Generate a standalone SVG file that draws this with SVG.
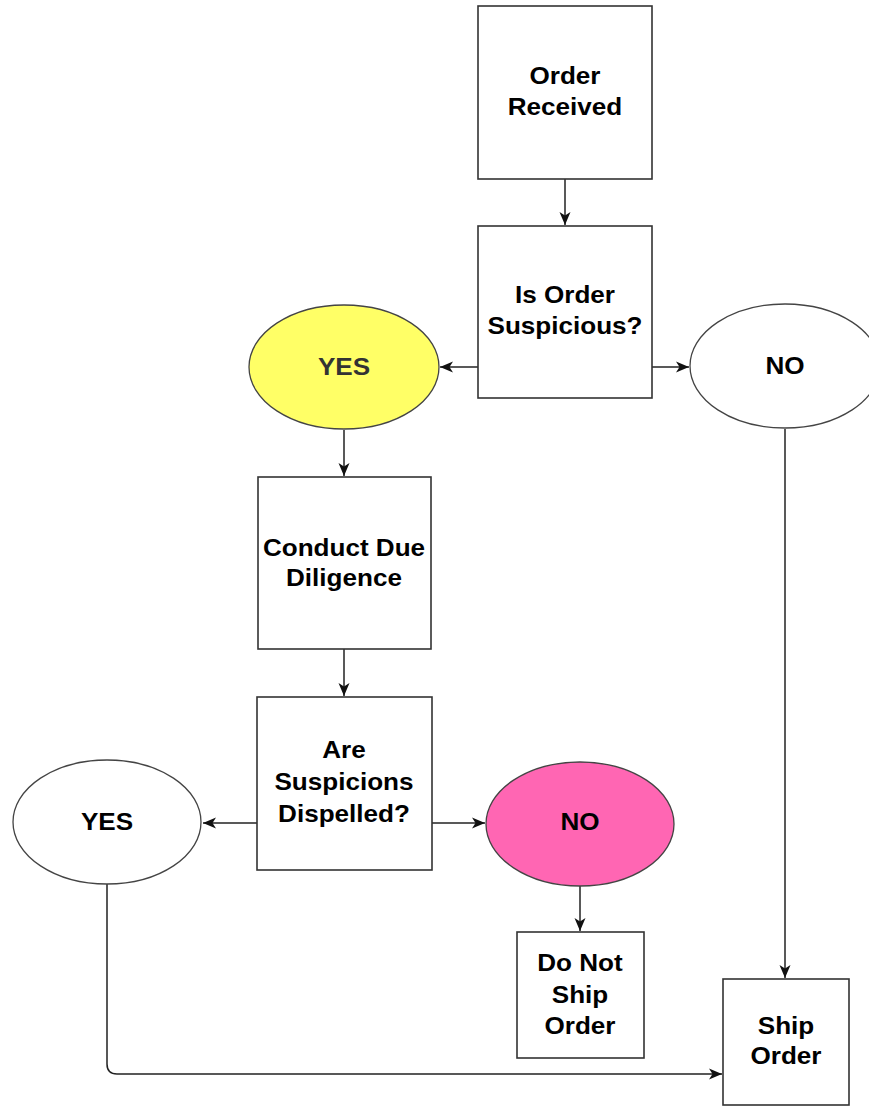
<svg xmlns="http://www.w3.org/2000/svg" width="869" height="1107" viewBox="0 0 869 1107">
<style>
.box{fill:#fff;stroke:#333;stroke-width:1.6}
.ell{stroke:#444;stroke-width:1.3}
.lbl{font-family:"Liberation Sans",Arial,sans-serif;font-weight:bold;font-size:23.5px;fill:#000;text-anchor:middle}
.edge{fill:none;stroke:#222;stroke-width:1.5}
</style>
<defs>
<marker id="arr" markerUnits="userSpaceOnUse" markerWidth="14" markerHeight="14" viewBox="0 0 14 14" refX="13" refY="7" orient="auto">
<path d="M0,1.5 L13,7 L0,12.5 L3.5,7 Z" fill="#111"/>
</marker>
</defs>
<rect width="869" height="1107" fill="#fff"/>
<g id="connectors">
<path class="edge" d="M565,179 V225" marker-end="url(#arr)"/>
<path class="edge" d="M478,367 H440" marker-end="url(#arr)"/>
<path class="edge" d="M652,367 H689" marker-end="url(#arr)"/>
<path class="edge" d="M344,430 V476" marker-end="url(#arr)"/>
<path class="edge" d="M785,429 V978" marker-end="url(#arr)"/>
<path class="edge" d="M344,649 V696" marker-end="url(#arr)"/>
<path class="edge" d="M257,823 H203" marker-end="url(#arr)"/>
<path class="edge" d="M432,823 H485" marker-end="url(#arr)"/>
<path class="edge" d="M580,886 V931" marker-end="url(#arr)"/>
<path class="edge" d="M107,884 V1064 Q107,1074 117,1074 H722" marker-end="url(#arr)"/>
</g>
<g id="order-received">
<rect class="box" x="478" y="6" width="174" height="173"/>
<text class="lbl" transform="translate(565,83.5) scale(1.11,1)">Order</text>
<text class="lbl" transform="translate(565,114.5) scale(1.11,1)">Received</text>
</g>
<g id="is-order-suspicious">
<rect class="box" x="478" y="226" width="174" height="172"/>
<text class="lbl" transform="translate(565,303) scale(1.11,1)">Is Order</text>
<text class="lbl" transform="translate(565,334) scale(1.11,1)">Suspicious?</text>
</g>
<g id="yes-1">
<ellipse class="ell" cx="344" cy="367" rx="95" ry="62" fill="#FFFF66"/>
<text class="lbl" style="fill:#333" transform="translate(344,375) scale(1.11,1)">YES</text>
</g>
<g id="no-1">
<ellipse class="ell" cx="785" cy="366" rx="95" ry="62" fill="#fff"/>
<text class="lbl" transform="translate(785,374) scale(1.11,1)">NO</text>
</g>
<g id="conduct-due-diligence">
<rect class="box" x="258" y="477" width="173" height="172"/>
<text class="lbl" transform="translate(344,556) scale(1.11,1)">Conduct Due</text>
<text class="lbl" transform="translate(344,586) scale(1.11,1)">Diligence</text>
</g>
<g id="are-suspicions-dispelled">
<rect class="box" x="257" y="697" width="175" height="173"/>
<text class="lbl" transform="translate(344,758) scale(1.11,1)">Are</text>
<text class="lbl" transform="translate(344,790) scale(1.11,1)">Suspicions</text>
<text class="lbl" transform="translate(344,822) scale(1.11,1)">Dispelled?</text>
</g>
<g id="yes-2">
<ellipse class="ell" cx="107" cy="822" rx="94" ry="62" fill="#fff"/>
<text class="lbl" transform="translate(107,830) scale(1.11,1)">YES</text>
</g>
<g id="no-2">
<ellipse class="ell" cx="580" cy="824" rx="94" ry="62" fill="#FF66B3"/>
<text class="lbl" transform="translate(580,830) scale(1.11,1)">NO</text>
</g>
<g id="do-not-ship-order">
<rect class="box" x="517" y="932" width="127" height="126"/>
<text class="lbl" transform="translate(580,971) scale(1.11,1)">Do Not</text>
<text class="lbl" transform="translate(580,1003) scale(1.11,1)">Ship</text>
<text class="lbl" transform="translate(580,1034) scale(1.11,1)">Order</text>
</g>
<g id="ship-order">
<rect class="box" x="723" y="979" width="126" height="126"/>
<text class="lbl" transform="translate(786,1034) scale(1.11,1)">Ship</text>
<text class="lbl" transform="translate(786,1064) scale(1.11,1)">Order</text>
</g>
</svg>
